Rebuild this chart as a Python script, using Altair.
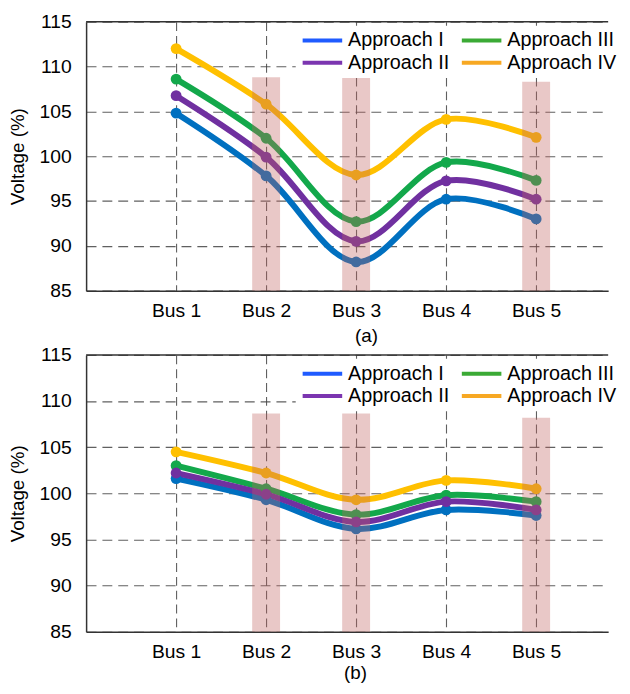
import altair as alt
import pandas as pd

# ---------------- data ----------------
buses = [1, 2, 3, 4, 5]
bus_labels = ["Bus 1", "Bus 2", "Bus 3", "Bus 4", "Bus 5"]

# panel (a)
a_I = [104.8, 97.8, 88.2, 95.2, 93.0]
a_II = [106.75, 99.9, 90.5, 97.25, 95.2]
a_III = [108.6, 102.0, 92.7, 99.3, 97.3]
a_IV = [112.0, 105.8, 97.9, 104.1, 102.1]

# panel (b)
b_I = [101.6, 99.3, 96.15, 98.2, 97.6]
b_II = [102.2, 99.9, 96.9, 99.1, 98.2]
b_III = [103.0, 100.5, 97.7, 99.8, 99.1]
b_IV = [104.5, 102.2, 99.3, 101.4, 100.5]

band_buses = [2, 3, 5]
band_tops_a = [108.8, 108.8, 108.3]
band_tops_b = [108.65, 108.65, 108.2]

legend_names = ["Approach I", "Approach II", "Approach III", "Approach IV"]
legend_colors = ["#1F5BFF", "#7B35B0", "#3BAA35", "#F7A823"]

# drawing order: I (blue), III (green), II (purple), IV (yellow)
series_keys = ["s1", "s2", "s3", "s4"]
series_colors = ["#0070C0", "#13A84B", "#7030A0", "#FFC000"]

FONT = "Liberation Sans"


def make_df(I, II, III, IV):
    rows = []
    for key, vals in zip(series_keys, [I, III, II, IV]):
        for b, v in zip(buses, vals):
            rows.append({"bus": b, "v": v, "series": key})
    return pd.DataFrame(rows)


def panel(I, II, III, IV, band_tops, caption, height, title_x, title_pad):
    df = make_df(I, II, III, IV)
    bands = pd.DataFrame({"bus": band_buses, "top": band_tops})

    label_expr = "[" + ",".join("'%s'" % s for s in bus_labels) + "][datum.value - 1]"

    x = alt.X(
        "bus:Q",
        scale=alt.Scale(domain=[0, 5.8], nice=False, zero=False),
        axis=alt.Axis(
            values=buses,
            labelExpr=label_expr,
            title=caption,
            titleX=title_x,
            titlePadding=title_pad,
            grid=True,
            gridDash=[9, 5],
            ticks=False,
            labelPadding=11.5,
        ),
    )
    y = alt.Y(
        "v:Q",
        scale=alt.Scale(domain=[85, 115], nice=False, zero=False),
        axis=alt.Axis(
            values=[85, 90, 95, 100, 105, 110, 115],
            title="Voltage (%)",
            titlePadding=12,
            labelPadding=15,
            ticks=False,
            grid=True,
            gridDash=[10, 6],
        ),
    )

    color = alt.Color(
        "series:N",
        scale=alt.Scale(domain=series_keys, range=series_colors),
        legend=None,
    )

    top_border = alt.Chart(alt.Data(values=[{}])).mark_rule(
        color="#333333", strokeWidth=1.5
    ).encode(y=alt.value(0))

    lines = alt.Chart(df).mark_line(
        interpolate="catmull-rom", strokeWidth=6
    ).encode(x=x, y=y, color=color, detail="series:N")

    points = alt.Chart(df).mark_circle(size=120, opacity=1).encode(
        x=x, y=y, color=color
    )

    band = alt.Chart(bands).transform_calculate(
        x1="datum.bus - 0.155", x2="datum.bus + 0.155", y0="85"
    ).mark_rect(color="#C0605F", opacity=0.35).encode(
        x=alt.X("x1:Q"), x2="x2:Q", y=alt.Y("y0:Q"), y2="top:Q"
    )

    legend_layer = alt.Chart(
        pd.DataFrame({"Approach": legend_names, "bus": buses[:4], "v": [100] * 4})
    ).transform_filter("false").mark_line().encode(
        x=x,
        y=y,
        color=alt.Color(
            "Approach:N",
            scale=alt.Scale(domain=legend_names, range=legend_colors),
            legend=alt.Legend(
                title=None,
                orient="none",
                legendX=212,
                legendY=4,
                columns=2,
                symbolType="stroke",
                symbolSize=1600,
                symbolStrokeWidth=4,
                labelFont=FONT,
                labelFontSize=20,
                labelColor="black",
                labelOffset=4,
                labelLimit=300,
                fillColor="white",
                padding=5,
                rowPadding=2.5,
                columnPadding=10,
                clipHeight=20,
            ),
        ),
    )

    return alt.layer(
        top_border, lines, points, band, legend_layer
    ).resolve_scale(color="independent").properties(width=528, height=height)


chart_a = panel(a_I, a_II, a_III, a_IV, band_tops_a, "(a)", 272, 283, 6)
chart_b = panel(b_I, b_II, b_III, b_IV, band_tops_b, "(b)", 280, 272, 2)

chart = alt.vconcat(chart_a, chart_b, spacing=0).resolve_scale(
    color="independent"
).resolve_legend(color="independent").properties(
    padding={"left": 0, "top": 0, "right": 0, "bottom": 0}
).configure_view(stroke=None).configure_axis(
    labelFont=FONT,
    labelFontSize=19.5,
    labelColor="black",
    titleFont=FONT,
    titleFontSize=19,
    titleFontWeight="normal",
    titleColor="black",
    domainColor="#333333",
    domainWidth=1.5,
    gridColor="#444444",
    gridOpacity=0.85,
    gridWidth=1.1,
)

chart.save("out.html", embed_options={"renderer": "svg", "actions": False})
